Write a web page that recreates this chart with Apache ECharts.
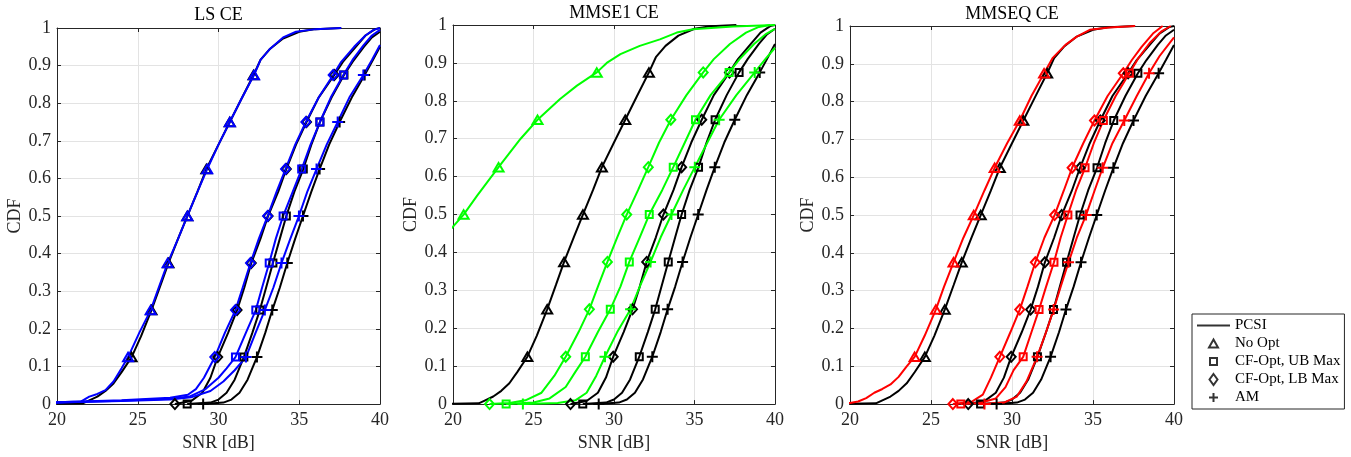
<!DOCTYPE html>
<html><head><meta charset="utf-8">
<script src="https://cdn.jsdelivr.net/npm/echarts@6/dist/echarts.min.js"></script>
<style>html,body{margin:0;padding:0;background:#fff}#c{width:1351px;height:457px}</style>
</head><body><div id="c"></div>
<script>
// ---------- data ----------
const panelTitles = ['LS CE', 'MMSE1 CE', 'MMSEQ CE'];
const panelColors = ['#0000ff', '#00ff00', '#ff0000'];
const xAxisName = 'SNR [dB]';
const yAxisName = 'CDF';
const xMin = 20, xMax = 40, xStep = 5;
const yMin = 0, yMax = 1, yStep = 0.1;
const legendNames = ['PCSI', 'No Opt', 'CF-Opt, UB Max', 'CF-Opt, LB Max', 'AM'];

// PCSI (black) curves, [SNR, CDF]; markers at CDF = k/8
const pcsiNoOpt = [[19.0,0],[21.6,0.002],[22.0,0.01],[22.5,0.02],[23.0,0.035],[23.5,0.055],[24.0,0.085],[24.62,0.125],[25.2,0.18],[25.85,0.25],[26.4,0.315],[26.9,0.375],[27.5,0.44],[28.07,0.5],[28.7,0.565],[29.25,0.625],[30.0,0.69],[30.7,0.75],[31.4,0.81],[32.17,0.875],[32.6,0.915],[33.2,0.945],[34.0,0.972],[35.0,0.99],[36.0,0.997],[37.6,1.0]];
const pcsiUbMax = [[28.06,0],[29.5,0.004],[30.0,0.012],[30.5,0.03],[31.0,0.065],[31.57,0.125],[32.1,0.19],[32.56,0.25],[32.95,0.31],[33.37,0.375],[33.8,0.44],[34.2,0.5],[34.7,0.565],[35.25,0.625],[35.75,0.69],[36.28,0.75],[37.0,0.815],[37.77,0.875],[38.3,0.91],[39.0,0.95],[39.5,0.975],[40.0,0.99]];
const pcsiLbMax = [[27.3,0],[28.3,0.008],[29.0,0.03],[29.5,0.07],[29.95,0.125],[30.6,0.19],[31.15,0.25],[31.6,0.31],[32.03,0.375],[32.6,0.44],[33.07,0.5],[33.7,0.565],[34.2,0.625],[34.8,0.69],[35.45,0.75],[36.2,0.815],[37.17,0.875],[37.7,0.91],[38.5,0.95],[39.1,0.98],[39.7,0.997],[40.0,1.0]];
const pcsiAm = [[29.05,0],[30.3,0.004],[30.8,0.012],[31.3,0.03],[31.8,0.065],[32.38,0.125],[32.9,0.19],[33.33,0.25],[33.8,0.31],[34.26,0.375],[34.75,0.44],[35.23,0.5],[35.75,0.565],[36.26,0.625],[36.85,0.69],[37.5,0.75],[38.25,0.815],[39.05,0.875],[39.5,0.91],[40.0,0.95]];

// LS CE (blue)
const lsNoOpt = [[19.5,0],[20.0,0.005],[21.5,0.007],[22.0,0.02],[22.5,0.027],[23.0,0.037],[23.5,0.06],[24.0,0.095],[24.4,0.125],[25.1,0.19],[25.8,0.25],[26.3,0.31],[26.85,0.375],[27.5,0.44],[28.07,0.5],[28.7,0.565],[29.3,0.625],[30.0,0.69],[30.7,0.75],[31.4,0.81],[32.2,0.875],[32.6,0.915],[33.2,0.945],[34.0,0.975],[34.8,0.99],[36.0,0.997],[37.6,1.0]];
const lsUbMax = [[19.5,0],[20.0,0.004],[24.0,0.009],[27.0,0.014],[28.2,0.02],[29.2,0.04],[30.0,0.07],[30.5,0.095],[31.05,0.125],[31.7,0.19],[32.31,0.25],[32.7,0.31],[33.14,0.375],[33.55,0.44],[34.0,0.5],[34.6,0.565],[35.15,0.625],[35.7,0.69],[36.28,0.75],[36.95,0.815],[37.73,0.875],[38.3,0.915],[39.0,0.955],[39.5,0.98],[40.0,0.995]];
const lsLbMax = [[19.5,0],[20.0,0.005],[24.0,0.01],[27.0,0.017],[28.1,0.025],[28.6,0.04],[29.1,0.07],[29.77,0.125],[30.4,0.19],[31.05,0.25],[31.5,0.31],[31.98,0.375],[32.5,0.44],[33.04,0.5],[33.6,0.565],[34.15,0.625],[34.75,0.69],[35.41,0.75],[36.2,0.815],[37.1,0.875],[37.6,0.91],[38.4,0.95],[39.1,0.98],[39.6,0.995],[40.0,1.0]];
const lsAm = [[19.5,0],[20.0,0.004],[24.0,0.008],[27.0,0.012],[28.3,0.018],[29.5,0.035],[30.3,0.06],[31.0,0.09],[31.7,0.125],[32.3,0.19],[32.87,0.25],[33.4,0.31],[33.9,0.375],[34.45,0.44],[34.98,0.5],[35.5,0.565],[36.07,0.625],[36.7,0.69],[37.38,0.75],[38.1,0.815],[38.97,0.875],[39.5,0.915],[40.0,0.955]];

// MMSE1 CE (green)
const m1NoOpt = [[18.0,0.38],[20.0,0.468],[20.66,0.5],[21.5,0.55],[22.83,0.625],[24.2,0.7],[25.25,0.75],[26.65,0.805],[27.7,0.84],[28.93,0.875],[29.55,0.9],[30.4,0.923],[31.6,0.945],[32.85,0.962],[33.9,0.98],[34.9,0.989],[37.4,0.996],[40.0,1.0]];
const m1UbMax = [[23.3,0],[25.0,0.004],[26.0,0.015],[27.0,0.045],[27.6,0.085],[28.22,0.125],[29.0,0.19],[29.77,0.25],[30.4,0.31],[30.95,0.375],[31.6,0.44],[32.19,0.5],[33.0,0.565],[33.68,0.625],[34.4,0.69],[35.06,0.75],[36.0,0.815],[37.15,0.875],[37.8,0.91],[38.7,0.95],[39.4,0.975],[40.0,0.99]];
const m1LbMax = [[22.27,0],[23.5,0.003],[24.5,0.01],[25.5,0.03],[26.3,0.075],[27.0,0.125],[27.8,0.19],[28.47,0.25],[29.0,0.31],[29.59,0.375],[30.2,0.44],[30.79,0.5],[31.5,0.565],[32.13,0.625],[32.8,0.69],[33.53,0.75],[34.5,0.815],[35.54,0.875],[36.2,0.91],[37.2,0.95],[38.2,0.98],[39.0,0.995],[39.7,1.0]];
const m1Am = [[24.34,0],[26.5,0.003],[27.6,0.01],[28.3,0.03],[28.9,0.075],[29.44,0.125],[30.2,0.19],[31.03,0.25],[31.6,0.31],[32.27,0.375],[32.9,0.44],[33.57,0.5],[34.3,0.565],[35.02,0.625],[35.8,0.69],[36.53,0.75],[37.6,0.815],[38.74,0.875],[39.4,0.91],[40.0,0.94]];

// MMSEQ CE (red)
const mqNoOpt = [[19.5,0],[20.0,0.003],[20.5,0.007],[21.0,0.016],[21.5,0.03],[22.0,0.04],[22.5,0.052],[23.0,0.072],[23.5,0.1],[23.99,0.125],[24.6,0.18],[25.3,0.25],[25.8,0.31],[26.39,0.375],[27.0,0.44],[27.64,0.5],[28.3,0.565],[28.93,0.625],[29.7,0.69],[30.48,0.75],[31.2,0.815],[31.98,0.875],[32.5,0.915],[33.3,0.95],[34.0,0.972],[34.8,0.99],[36.0,0.996],[37.6,1.0]];
const mqUbMax = [[26.84,0],[28.0,0.003],[29.0,0.015],[29.6,0.045],[30.1,0.09],[30.69,0.125],[31.2,0.19],[31.67,0.25],[32.1,0.31],[32.59,0.375],[33.0,0.44],[33.45,0.5],[33.95,0.565],[34.51,0.625],[35.05,0.69],[35.64,0.75],[36.4,0.815],[37.24,0.875],[37.8,0.915],[38.5,0.955],[39.2,0.985],[39.8,1.0]];
const mqLbMax = [[26.35,0],[27.5,0.006],[28.2,0.025],[28.7,0.07],[29.25,0.125],[29.9,0.19],[30.48,0.25],[30.95,0.31],[31.44,0.375],[32.0,0.44],[32.63,0.5],[33.2,0.565],[33.71,0.625],[34.4,0.69],[35.09,0.75],[35.9,0.815],[36.87,0.875],[37.4,0.91],[38.0,0.945],[38.7,0.98],[39.3,1.0]];
const mqAm = [[28.3,0],[29.5,0.004],[30.3,0.02],[30.9,0.06],[31.55,0.125],[32.1,0.19],[32.57,0.25],[33.0,0.31],[33.49,0.375],[34.0,0.44],[34.57,0.5],[35.1,0.565],[35.6,0.625],[36.2,0.69],[36.93,0.75],[37.7,0.815],[38.46,0.875],[39.1,0.92],[40.0,0.97]];

const pcsiCurves = [pcsiNoOpt, pcsiUbMax, pcsiLbMax, pcsiAm];
const panelCurves = [
  [lsNoOpt, lsUbMax, lsLbMax, lsAm],
  [m1NoOpt, m1UbMax, m1LbMax, m1Am],
  [mqNoOpt, mqUbMax, mqLbMax, mqAm]
];

// ---------- styling ----------
const FONT = '"Liberation Serif", "Times New Roman", serif';
const AX = '#262626';
// chart markers: triangle, square, diamond, plus
const shapes = [
  {path: 'path://M5,0L10,8.5L0,8.5Z', size: 10},
  {path: 'path://M0,0L8,0L8,8L0,8Z', size: 7},
  {path: 'path://M4.5,0L9,5L4.5,10L0,5Z', size: 10},
  {path: 'path://M5,0L5,10M0,5L10,5', size: 11}
];
// legend icons, drawn in a 12x12 box (padded with bare moveTo points)
const legendIcons = [
  'path://M0,0M33,12M0,6L33,6',
  'path://M0,0M12,12M6,2L10.5,10L1.5,10Z',
  'path://M0,0M12,12M2.5,2.5L9.5,2.5L9.5,9.5L2.5,9.5Z',
  'path://M0,0M12,12M6,0.5L10,6L6,11.5L2,6Z',
  'path://M0,0M12,12M6,1.5L6,10.5M1.5,6L10.5,6'
];
const grids = [
  {left: 57, top: 28, width: 323, height: 378},
  {left: 453, top: 25, width: 322, height: 381},
  {left: 850, top: 26, width: 324, height: 385}
];

function isMarker(y) { return y < 1 && Math.abs(y * 8 - Math.round(y * 8)) < 1e-9; }

function curveSeries(data, shapeIdx, color, gi) {
  const sh = shapes[shapeIdx];
  return {
    type: 'line', xAxisIndex: gi * 2, yAxisIndex: gi * 2, data: data,
    symbol: function (v) { return isMarker(v[1]) ? sh.path : 'none'; },
    symbolSize: sh.size, symbolKeepAspect: true, showAllSymbol: true,
    lineStyle: {color: color, width: 2},
    itemStyle: {color: 'rgba(0,0,0,0)', borderColor: color, borderWidth: 2},
    clip: true, silent: true, animation: false, smooth: false,
    emphasis: {disabled: true}
  };
}

const xAxes = [], yAxes = [], series = [], titles = [];
grids.forEach(function (g, gi) {
  const axLine = {show: true, onZero: false, lineStyle: {color: AX, width: 1}};
  const axTick = {show: true, inside: true, length: 4, lineStyle: {color: AX, width: 1}};
  const labelStyle = {color: AX, fontFamily: FONT, fontSize: 18};
  xAxes.push({type: 'value', gridIndex: gi, min: xMin, max: xMax, interval: xStep, position: 'bottom',
    name: xAxisName, nameLocation: 'middle', nameGap: 29, nameTextStyle: {color: AX, fontFamily: FONT, fontSize: 18},
    axisLine: axLine, axisTick: axTick, axisLabel: Object.assign({margin: 7}, labelStyle),
    splitLine: {show: true, lineStyle: {color: '#e3e3e3', width: 1}}});
  xAxes.push({type: 'value', gridIndex: gi, min: xMin, max: xMax, interval: xStep, position: 'top',
    axisLine: axLine, axisTick: axTick, axisLabel: {show: false}, splitLine: {show: false}});
  yAxes.push({type: 'value', gridIndex: gi, min: yMin, max: yMax, interval: yStep, position: 'left',
    name: yAxisName, nameLocation: 'middle', nameGap: 30, nameTextStyle: {color: AX, fontFamily: FONT, fontSize: 18},
    axisLine: axLine, axisTick: axTick, axisLabel: Object.assign({margin: 6}, labelStyle),
    splitLine: {show: true, lineStyle: {color: '#e3e3e3', width: 1}}});
  yAxes.push({type: 'value', gridIndex: gi, min: yMin, max: yMax, interval: yStep, position: 'right',
    axisLine: axLine, axisTick: axTick, axisLabel: {show: false}, splitLine: {show: false}});
  titles.push({text: panelTitles[gi], left: g.left + g.width / 2, top: [6, 4.5, 5][gi], textAlign: 'center', padding: 0,
    textStyle: {color: '#000', fontFamily: FONT, fontSize: 18, fontWeight: 'normal'}});
  pcsiCurves.forEach(function (c, k) { series.push(curveSeries(c, k, '#000000', gi)); });
  panelCurves[gi].forEach(function (c, k) { series.push(curveSeries(c, k, panelColors[gi], gi)); });
});

// legend-only series (no data)
legendNames.forEach(function (n, k) {
  series.push({type: 'scatter', name: n, xAxisIndex: 0, yAxisIndex: 0, data: [],
    symbol: legendIcons[k], symbolKeepAspect: true,
    itemStyle: {color: 'rgba(0,0,0,0)', borderColor: '#000', borderWidth: 2}});
});

const legendData = legendNames.map(function (n, i) {
  return {name: n, icon: legendIcons[i],
    itemStyle: {color: 'rgba(0,0,0,0)', borderColor: '#000', borderWidth: 2}};
});

const chart = echarts.init(document.getElementById('c'), null, {renderer: 'canvas'});
chart.setOption({
  backgroundColor: '#fff',
  animation: false,
  title: titles,
  grid: grids,
  xAxis: xAxes,
  yAxis: yAxes,
  legend: {
    data: legendData, orient: 'vertical', left: 1192, top: 314,
    itemWidth: 33, itemHeight: 12, itemGap: 3, symbolKeepAspect: true,
    padding: [4, 4, 4, 4], backgroundColor: '#fff', borderColor: AX, borderWidth: 1, borderRadius: 0,
    textStyle: {color: '#000', fontFamily: FONT, fontSize: 15}, selectedMode: false
  },
  series: series
});
</script>
</body></html>
